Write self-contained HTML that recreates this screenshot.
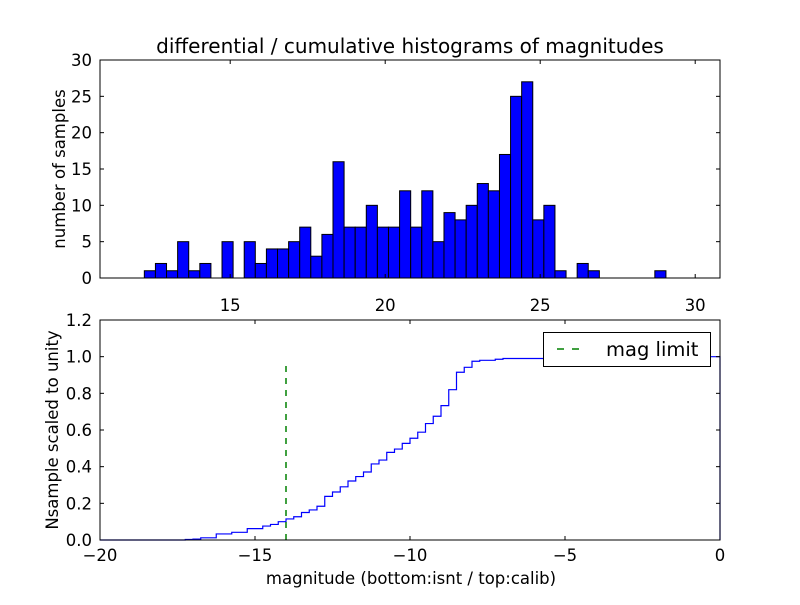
<!DOCTYPE html>
<html><head><meta charset="utf-8"><style>
body{margin:0;background:#fff;}
svg text{font-family:"DejaVu Sans","Liberation Sans",sans-serif;fill:#000;}
</style></head><body>
<svg id="fig" width="800" height="600" viewBox="0 0 800 600" xmlns="http://www.w3.org/2000/svg">
<rect width="800" height="600" fill="#fff"/>
<g id="top"></g>
<g id="bot"></g>
</svg>
<script>
// Top histogram data
const binStart = 12.23;
const binWidth = 0.358;
const counts = [1,2,1,5,1,2,0,5,0,5,2,4,4,5,7,3,6,16,7,7,10,7,7,12,7,12,5,9,8,10,13,12,17,25,27,8,10,1,0,2,1,0,0,0,0,0,1];
const topXTicks = [15,20,25,30];
const topYTicks = [0,5,10,15,20,25,30];
// Bottom cumulative data (bins of 0.25 from -20)
const cumStart = -20;
const cumWidth = 0.25;
const cumValues = [0,0,0,0,0,0,0,0,0,0,0,0.003,0.005,0.012,0.012,0.033,0.033,0.042,0.042,0.062,0.062,0.076,0.085,0.1,0.115,0.127,0.15,0.164,0.184,0.238,0.262,0.29,0.322,0.346,0.371,0.415,0.436,0.478,0.496,0.527,0.555,0.588,0.635,0.675,0.733,0.82,0.915,0.942,0.975,0.98,0.98,0.986,0.99,0.99,0.99,0.99,0.99,0.99,0.993,0.993,0.993,1,1,1,1,1,1,1,1,1,1,1,1,1,1,1,1,1,1,1];
const magLimit = [-14];
const magLimitTop = [0.96];
const botXTicks = [-20,-15,-10,-5,0];
const botYTicks = [0,0.2,0.4,0.6,0.8,1.0,1.2];

const NS="http://www.w3.org/2000/svg";
function mk(parent,tag,attrs){const e=document.createElementNS(NS,tag);for(const k in attrs)e.setAttribute(k,attrs[k]);parent.appendChild(e);return e;}

// top axes
const T={l:100,r:720,t:60,b:278,x0:10.8,x1:30.8,y0:0,y1:30};
const tx=v=>T.l+(v-T.x0)/(T.x1-T.x0)*(T.r-T.l);
const ty=v=>T.b-(v-T.y0)/(T.y1-T.y0)*(T.b-T.t);
const gt=document.getElementById('top');
counts.forEach((c,i)=>{
  if(c<=0)return;
  const xa=tx(binStart+i*binWidth), xb=tx(binStart+(i+1)*binWidth);
  const r=mk(gt,'rect',{x:xa,y:ty(c),width:xb-xa,height:ty(0)-ty(c),fill:'#0000ff',stroke:'#000','stroke-width':1});
  
  
});
function frame(g,A){
  const f=mk(g,'rect',{x:A.l,y:A.t,width:A.r-A.l,height:A.b-A.t,fill:'none',stroke:'#000','stroke-width':1});
  
  
}
frame(gt,T);
topXTicks.forEach(v=>{
  const x=tx(v);
  mk(gt,'line',{x1:x,y1:T.b,x2:x,y2:T.b-4,stroke:'#000'});
  mk(gt,'line',{x1:x,y1:T.t,x2:x,y2:T.t+4,stroke:'#000'});
  const t=mk(gt,'text',{x:x,y:T.b+33,'text-anchor':'middle','font-size':16.5});
  t.textContent=v;
  
  
});
topYTicks.forEach(v=>{
  const y=ty(v);
  mk(gt,'line',{x1:T.l,y1:y,x2:T.l+4,y2:y,stroke:'#000'});
  mk(gt,'line',{x1:T.r,y1:y,x2:T.r-4,y2:y,stroke:'#000'});
  const t=mk(gt,'text',{x:T.l-8,y:y+6,'text-anchor':'end','font-size':16.5});
  t.textContent=v;
  
  
});
let tt=mk(gt,'text',{x:410,y:53,'text-anchor':'middle','font-size':20});
tt.textContent='differential / cumulative histograms of magnitudes';


let yl=mk(gt,'text',{x:0,y:0,'text-anchor':'middle','font-size':16.5,transform:'translate(65,169) rotate(-90)'});
yl.textContent='number of samples';



// bottom axes
const B={l:100,r:720,t:320,b:540,x0:-20,x1:0,y0:0,y1:1.2};
const bx=v=>B.l+(v-B.x0)/(B.x1-B.x0)*(B.r-B.l);
const by=v=>B.b-(v-B.y0)/(B.y1-B.y0)*(B.b-B.t);
const gb=document.getElementById('bot');
let d='M'+bx(cumStart)+','+by(0);
cumValues.forEach((c,i)=>{
  d+=' L'+bx(cumStart+i*cumWidth)+','+by(c)+' L'+bx(cumStart+(i+1)*cumWidth)+','+by(c);
});
d+=' L'+bx(cumStart+cumValues.length*cumWidth)+','+by(0);
const p=mk(gb,'path',{d:d,fill:'none',stroke:'#0000ff','stroke-width':1.2});


const ml=mk(gb,'line',{x1:bx(magLimit[0]),y1:by(0),x2:bx(magLimit[0]),y2:by(magLimitTop[0]),stroke:'#008000','stroke-width':1.5,'stroke-dasharray':'6,6'});


frame(gb,B);
botXTicks.forEach(v=>{
  const x=bx(v);
  mk(gb,'line',{x1:x,y1:B.b,x2:x,y2:B.b-4,stroke:'#000'});
  mk(gb,'line',{x1:x,y1:B.t,x2:x,y2:B.t+4,stroke:'#000'});
  const t=mk(gb,'text',{x:x,y:B.b+21,'text-anchor':'middle','font-size':16.5});
  t.textContent=(v<0?'\u2212'+(-v):v);
  
  
});
botYTicks.forEach(v=>{
  const y=by(v);
  mk(gb,'line',{x1:B.l,y1:y,x2:B.l+4,y2:y,stroke:'#000'});
  mk(gb,'line',{x1:B.r,y1:y,x2:B.r-4,y2:y,stroke:'#000'});
  const t=mk(gb,'text',{x:B.l-8,y:y+6,'text-anchor':'end','font-size':16.5});
  t.textContent=v.toFixed(1);
  
  
});
let xl=mk(gb,'text',{x:411,y:584,'text-anchor':'middle','font-size':16.5});
xl.textContent='magnitude (bottom:isnt / top:calib)';


let yl2=mk(gb,'text',{x:0,y:0,'text-anchor':'middle','font-size':16.5,transform:'translate(58,430) rotate(-90)'});
yl2.textContent='Nsample scaled to unity';


// legend
const lg=mk(gb,'g',{});


mk(lg,'rect',{x:543.5,y:332.5,width:167,height:34,fill:'#fff',stroke:'#000','stroke-width':1});
mk(lg,'line',{x1:557,y1:349,x2:587,y2:349,stroke:'#008000','stroke-width':1.5,'stroke-dasharray':'7,8'});
const lt=mk(lg,'text',{x:606,y:356,'font-size':19.5});
lt.textContent='mag limit';


</script>
</body></html>
